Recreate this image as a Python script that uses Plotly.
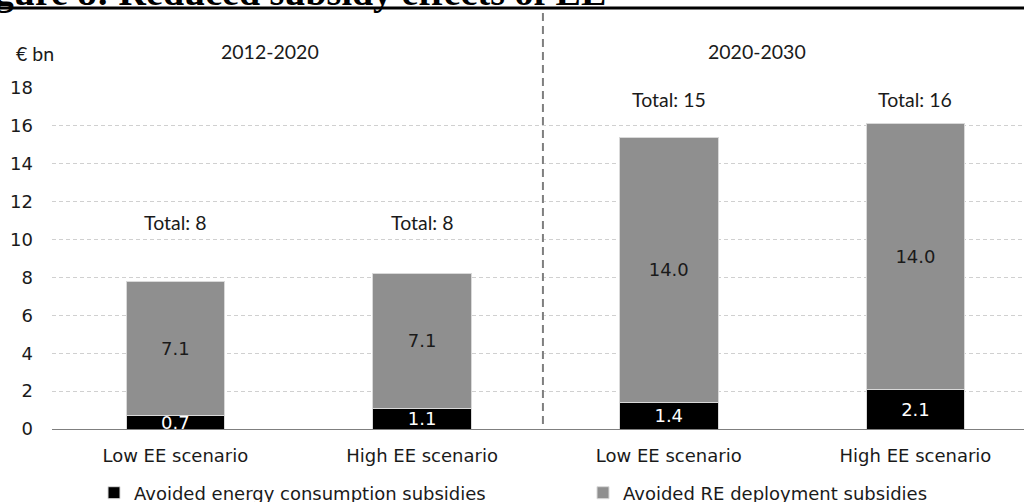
import plotly.graph_objects as go

# ---- data ----
categories = ["Low EE scenario", "High EE scenario", "Low EE scenario", "High EE scenario"]
periods = ["2012-2020", "2020-2030"]
energy_subsidies = [0.7, 1.1, 1.4, 2.1]      # Avoided energy consumption subsidies (€ bn)
re_subsidies = [7.1, 7.1, 14.0, 14.0]        # Avoided RE deployment subsidies (€ bn)
series_names = ["Avoided energy consumption subsidies", "Avoided RE deployment subsidies"]
y_ticks = [0, 2, 4, 6, 8, 10, 12, 14, 16, 18]
unit_label = "€ bn"
title_text = "Figure 8: Reduced subsidy effects of EE"

totals = [round(a + b) for a, b in zip(energy_subsidies, re_subsidies)]
xpos = list(range(len(categories)))

# ---- layout constants (positions / styles) ----
W, H = 1024, 502
ML, MR, MT, MB = 52, 0, 88, 502 - 429
PLOT_H = H - MT - MB
PLOT_W = W - ML - MR
def py(p):  # screen pixel row -> paper y
    return (H - MB - p) / PLOT_H
def px(p):  # screen pixel column -> paper x
    return (p - ML) / PLOT_W

total_label_y = [10.9, 10.9, 17.4, 17.4]
period_label_x = [0.384, 2.358]
VERDANA = "DejaVu Sans"
CALIBRI = "Lato"
TXT = "#1a1a1a"
FS = 18

fig = go.Figure()
fig.add_bar(
    x=xpos, y=energy_subsidies, name=series_names[0], legend="legend",
    marker=dict(color="#000000", line=dict(color="#d9d9d9", width=1)),
    text=[f"{v:.1f}" for v in energy_subsidies], textposition="inside",
    insidetextanchor="middle", textangle=0,
    textfont=dict(family=VERDANA, size=FS, color="#ffffff"),
    width=0.4, hoverinfo="skip",
)
fig.add_bar(
    x=xpos, y=re_subsidies, name=series_names[1], legend="legend2",
    marker=dict(color="#8f8f8f", line=dict(color="#d9d9d9", width=1)),
    text=[f"{v:.1f}" for v in re_subsidies], textposition="inside",
    insidetextanchor="middle", textangle=0,
    textfont=dict(family=VERDANA, size=FS, color=TXT),
    width=0.4, hoverinfo="skip",
)

annotations = []
for x, t, yl in zip(xpos, totals, total_label_y):
    annotations.append(dict(x=x, y=yl, xref="x", yref="y", text=f"Total: {t}",
                            xanchor="center", yanchor="middle", showarrow=False,
                            font=dict(family=CALIBRI, size=19.5, color=TXT)))
for x, p in zip(period_label_x, periods):
    annotations.append(dict(x=x, y=py(51), xref="x", yref="paper", text=p,
                            xanchor="center", yanchor="middle", showarrow=False,
                            font=dict(family=CALIBRI, size=19.5, color=TXT)))
annotations.append(dict(x=px(14), y=py(53), xref="paper", yref="paper", text=unit_label,
                        xanchor="left", yanchor="middle", showarrow=False,
                        font=dict(family=CALIBRI, size=19.5, color=TXT)))
annotations.append(dict(x=px(-41), y=py(15), xref="paper", yref="paper", text=f"<b>{title_text}</b>",
                        xanchor="left", yanchor="bottom", showarrow=False,
                        font=dict(family="Liberation Serif", size=38, color="#000000")))

shapes = [
    dict(type="line", xref="x", yref="paper", x0=1.49, x1=1.49, y0=py(424), y1=py(12),
         line=dict(color="#7f7f7f", width=2, dash="8px,5px")),
    dict(type="line", xref="paper", yref="paper", x0=px(0), x1=px(1024), y0=py(8), y1=py(8),
         line=dict(color="#000000", width=3)),
]

legend_style = dict(orientation="h", xanchor="left", yanchor="middle",
                    font=dict(family=VERDANA, size=FS, color=TXT),
                    bgcolor="rgba(0,0,0,0)", borderwidth=0)

fig.update_layout(
    width=W, height=H,
    margin=dict(l=ML, r=MR, t=MT, b=MB, pad=0, autoexpand=False),
    paper_bgcolor="#ffffff", plot_bgcolor="#ffffff",
    barmode="stack",
    uniformtext=dict(mode="show", minsize=FS),
    showlegend=True,
    legend=dict(x=px(94), y=py(493), **legend_style),
    legend2=dict(x=px(583), y=py(493), **legend_style),
    xaxis=dict(range=[-0.5, 3.44], tickvals=xpos, ticktext=categories, showgrid=False,
               showline=True, linecolor="#7f7f7f", linewidth=1, ticks="", zeroline=False,
               tickfont=dict(family=VERDANA, size=FS, color=TXT), ticklabelstandoff=10,
               fixedrange=True, automargin=False),
    yaxis=dict(range=[0, 18], tickvals=y_ticks, showgrid=True, gridcolor="#d0d0d0",
               griddash="4px,3px", gridwidth=1, zeroline=False, showline=False, ticks="",
               tickfont=dict(family=VERDANA, size=FS, color=TXT), ticklabelstandoff=18,
               fixedrange=True, automargin=False),
    annotations=annotations,
    shapes=shapes,
)

fig.write_html(
    "out.html",
    config={"displayModeBar": False},
    post_script="document.body.style.margin='0';document.body.style.overflow='hidden';",
)
